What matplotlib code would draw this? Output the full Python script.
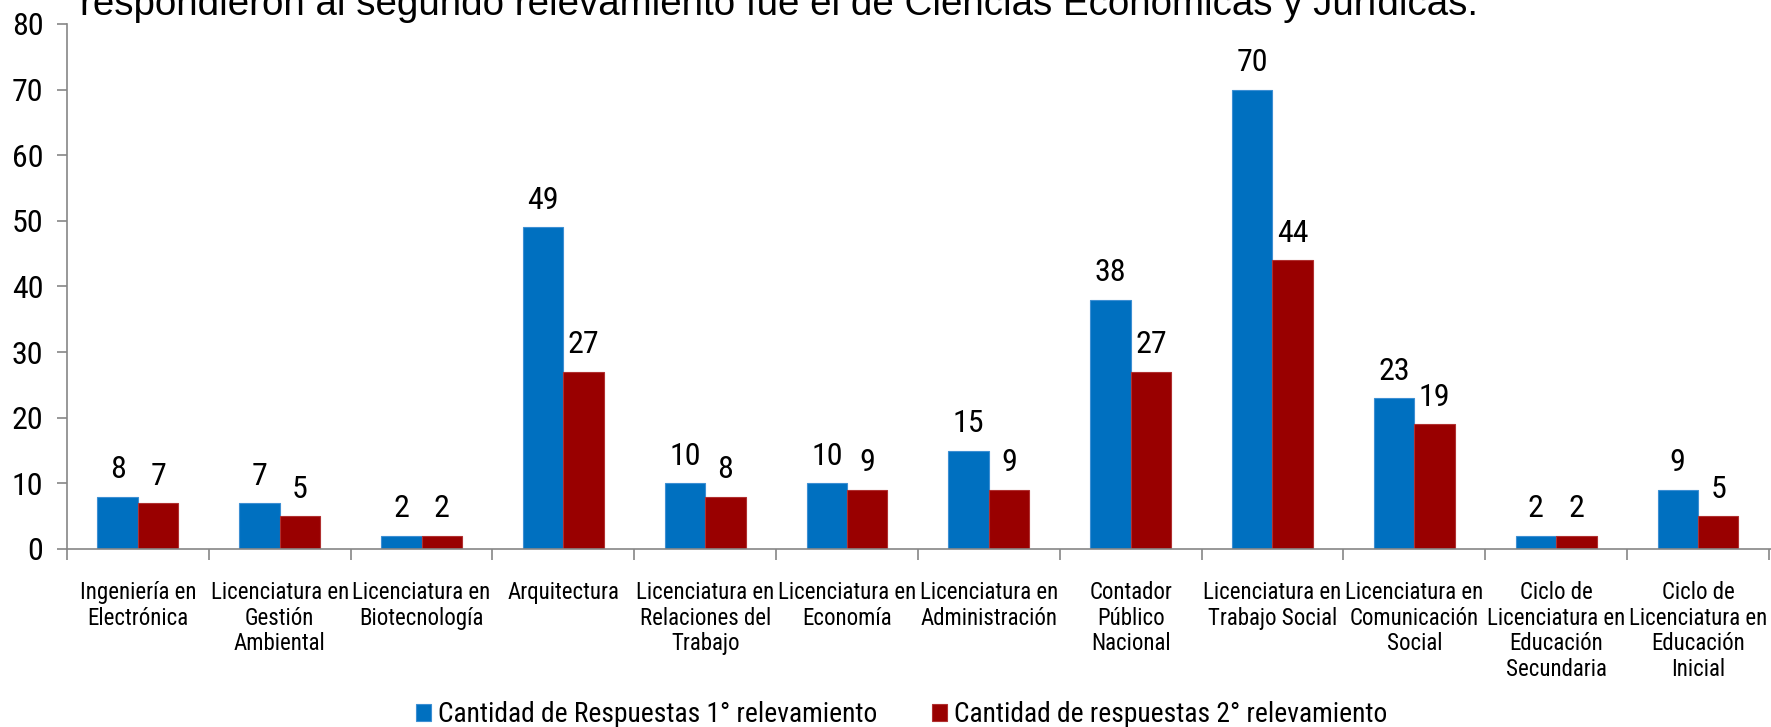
import matplotlib
matplotlib.use("Agg")
import matplotlib.pyplot as plt
import numpy as np
from matplotlib import font_manager

carreras = [
    "Ingeniería en\nElectrónica",
    "Licenciatura en\nGestión\nAmbiental",
    "Licenciatura en\nBiotecnología",
    "Arquitectura",
    "Licenciatura en\nRelaciones del\nTrabajo",
    "Licenciatura en\nEconomía",
    "Licenciatura en\nAdministración",
    "Contador\nPúblico\nNacional",
    "Licenciatura en\nTrabajo Social",
    "Licenciatura en\nComunicación\nSocial",
    "Ciclo de\nLicenciatura en\nEducación\nSecundaria",
    "Ciclo de\nLicenciatura en\nEducación\nInicial",
]
relev1 = [8, 7, 2, 49, 10, 10, 15, 38, 70, 23, 2, 9]
relev2 = [7, 5, 2, 27, 8, 9, 9, 27, 44, 19, 2, 5]
serie1 = "Cantidad de Respuestas 1° relevamiento"
serie2 = "Cantidad de respuestas 2° relevamiento"
titulo = "respondieron al segundo relevamiento fue el de Ciencias Económicas y Jurídicas."

BLUE = "#0070C0"
RED = "#990000"
GRAY = "#868686"


def narrow_font():
    # the original uses an Arial Narrow look; take a condensed face if one is installed
    fonts = font_manager.fontManager.ttflist
    for want in ("Liberation Sans Narrow", "Arial Narrow", "Roboto Condensed", "Open Sans Condensed"):
        for f in fonts:
            if f.name == want and f.weight in (400, "normal", "regular") and f.style == "normal":
                return f.fname, True
    for f in fonts:
        if f.name in ("DejaVu Sans", "Noto Sans", "Open Sans", "Roboto", "Inter") and \
                f.stretch in ("condensed", "semi-condensed", "extra-condensed") and \
                f.weight in (400, "normal", "regular") and f.style == "normal":
            return f.fname, True
    return font_manager.findfont("Liberation Sans"), False


fpath, is_narrow = narrow_font()
SCALE = 1.0 if is_narrow else 0.85


def fp(size):
    return font_manager.FontProperties(fname=fpath, size=size * SCALE)


W, H = 1771, 727
fig = plt.figure(figsize=(W / 100, H / 100), dpi=100)
ax = fig.add_axes([67 / W, 1 - 549 / H, 1 - 67 / W, (549 - 24) / H])

x = np.arange(len(carreras))
bw = 0.285
b1 = ax.bar(x - bw / 2, relev1, bw, color=BLUE, edgecolor="#3d8fd3", linewidth=0.8, label=serie1)
b2 = ax.bar(x + bw / 2, relev2, bw, color=RED, edgecolor="#b03030", linewidth=0.8, label=serie2)
for b in (b1, b2):
    ax.bar_label(b, padding=9, fontproperties=fp(23))

ax.set_ylim(0, 80)
ax.set_yticks(range(0, 81, 10))
ax.set_xlim(-0.5, 11.515)
ax.set_xticks(x)
ax.set_xticklabels(carreras, fontproperties=fp(16.5), linespacing=1.15, va="top")
ax.set_xticks(np.arange(-0.5, 12, 1), minor=True)
ax.tick_params(axis="x", which="major", length=0, pad=23)
ax.tick_params(axis="x", which="minor", length=8, color=GRAY, width=1.2)
ax.tick_params(axis="y", length=7, color=GRAY, width=1.2, pad=10)
for lab in ax.get_yticklabels():
    lab.set_fontproperties(fp(23))

for s in ("top", "right"):
    ax.spines[s].set_visible(False)
for s in ("left", "bottom"):
    ax.spines[s].set_color(GRAY)
    ax.spines[s].set_linewidth(1.2)

fig.text(80 / W, 1 - 15 / H, titulo, fontsize=27.7, family="Liberation Sans", va="baseline", ha="left")

fig.legend(handles=[b1, b2], loc="center", bbox_to_anchor=(0.509, 12 / H), ncol=2, frameon=False,
           prop=fp(19.8), handlelength=0.55, handleheight=0.55,
           handletextpad=0.25, columnspacing=2.0, borderpad=0)

fig.savefig("out.png", dpi=100)
